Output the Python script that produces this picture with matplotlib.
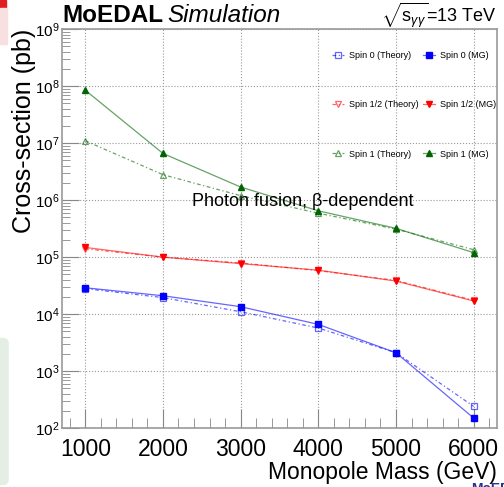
import matplotlib
matplotlib.use("Agg")
import matplotlib.pyplot as plt
from matplotlib.patches import Rectangle, FancyBboxPatch
from matplotlib.ticker import LogLocator, MultipleLocator, NullFormatter, FixedLocator

plt.rcParams['font.family'] = ['Liberation Sans', 'DejaVu Sans']
plt.rcParams['mathtext.fontset'] = 'custom'
plt.rcParams['mathtext.rm'] = 'Liberation Sans'
plt.rcParams['mathtext.it'] = 'Liberation Sans:italic'

# データ
mass = [1000, 2000, 3000, 4000, 5000, 6000]
spin0_theory = [2.8e4, 1.95e4, 1.1e4, 5.7e3, 2.1e3, 2.4e2]
spin0_mg = [2.9e4, 2.1e4, 1.35e4, 6.6e3, 2.1e3, 1.5e2]
spin12_theory = [1.4e5, 1.0e5, 7.9e4, 5.8e4, 3.9e4, 1.75e4]
spin12_mg = [1.48e5, 1.0e5, 7.7e4, 5.9e4, 3.8e4, 1.7e4]
spin1_theory = [1.1e7, 2.8e6, 1.2e6, 5.9e5, 3.1e5, 1.35e5]
spin1_mg = [8.5e7, 6.6e6, 1.7e6, 6.5e5, 3.2e5, 1.2e5]

labels_theory = ["Spin 0 (Theory)", "Spin 1/2 (Theory)", "Spin 1 (Theory)"]
labels_mg = ["Spin 0 (MG)", "Spin 1/2 (MG)", "Spin 1 (MG)"]

fig = plt.figure(figsize=(5.04, 4.87), dpi=100)
ax = fig.add_axes([0.123, 0.121, 0.863, 0.819])

# 系列のスタイル
styles = [
    ((0, 0, 1, 0.6), 'blue', 's', 5),
    ((1, 0, 0, 0.6), 'red', 'v', 5),
    ((0, 0.4, 0, 0.6), '#006400', '^', 4.5),
]
theory = [spin0_theory, spin12_theory, spin1_theory]
mg = [spin0_mg, spin12_mg, spin1_mg]

h_th, h_mg = [], []
for (lc, mc, mk, ms), yt, ym, lt, lm in zip(styles, theory, mg, labels_theory, labels_mg):
    l1, = ax.plot(mass, yt, color=lc, ls=(0, (3, 2, 1, 2)), lw=0.9, marker=mk,
                  ms=ms, mfc='none', mec=lc, mew=0.9, label=lt)
    l2, = ax.plot(mass, ym, color=lc, ls='-', lw=0.9, marker=mk,
                  ms=ms, mfc=mc, mec=mc, label=lm)
    h_th.append(l1)
    h_mg.append(l2)

ax.set_yscale('log')
ax.set_ylim(1e2, 1e9)
ax.set_xlim(700, 6300)

ax.xaxis.set_major_locator(FixedLocator(mass))
ax.xaxis.set_minor_locator(MultipleLocator(200))
ax.yaxis.set_major_locator(LogLocator(base=10, numticks=20))
ax.yaxis.set_minor_locator(LogLocator(base=10, subs=range(2, 10), numticks=20))
ax.yaxis.set_minor_formatter(NullFormatter())

ax.tick_params(axis='both', which='both', direction='in', color='#888888')
ax.tick_params(axis='x', which='major', length=14, labelsize=16.5, pad=7)
ax.tick_params(axis='x', which='minor', length=7)
ax.tick_params(axis='y', which='major', length=12, labelsize=11, pad=2)
ax.tick_params(axis='y', which='minor', length=6)
for s in ax.spines.values():
    s.set_color('#999999')
    s.set_linewidth(1.2)

ax.grid(True, which='major', ls=':', color='#999999', lw=0.8)

ax.set_xlabel("Monopole Mass (GeV)", fontsize=16.5, loc='right', labelpad=0)
ax.set_ylabel("Cross-section (pb)", fontsize=18, loc='top', labelpad=-1)

ax.legend(h_th + h_mg, labels_theory + labels_mg, ncol=2, frameon=False,
          fontsize=6.5, loc='upper right', bbox_to_anchor=(1.016, 0.965),
          labelspacing=4.45, handlelength=1.4, handletextpad=0.5, columnspacing=0.45)

ax.text(0.3, 0.568, "Photon fusion, β-dependent", transform=ax.transAxes,
        fontsize=13, va='center', ha='left')

# タイトル
fig.text(0.123, 0.955, "MoEDAL", fontsize=17.5, fontweight='bold', va='baseline')
fig.text(0.331, 0.955, "Simulation", fontsize=17.5, style='italic', va='baseline')
fig.text(0.986, 0.955, r"$\sqrt{\mathrm{s}_{\gamma\gamma}}$=13 TeV", fontsize=13,
         ha='right', va='baseline')

# 背景の装飾
fig.patches.append(Rectangle((0, 0.983), 0.012, 0.017, transform=fig.transFigure,
                             color='#e02020', zorder=0))
fig.patches.append(Rectangle((0, 0.91), 0.014, 0.073, transform=fig.transFigure,
                             color='#f8e0e0', zorder=0))
fig.patches.append(FancyBboxPatch((-0.02, 0.005), 0.036, 0.30, transform=fig.transFigure,
                                  boxstyle='round,pad=0,rounding_size=0.01',
                                  color='#e4eee4', zorder=0))
fig.text(0.935, -0.012, "MoEDAL", fontsize=10, fontweight='bold', color='#2a3590')

plt.savefig('out.png', dpi=100)
